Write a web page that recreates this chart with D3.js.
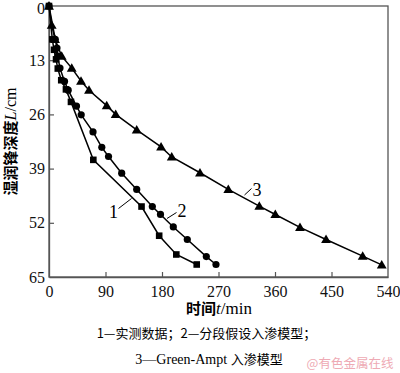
<!DOCTYPE html>
<html><head><meta charset="utf-8">
<script src="https://cdn.jsdelivr.net/npm/d3@7"></script>
<style>body{margin:0;background:#fff}svg{display:block}</style>
</head><body>
<script>
// Data (time in min, wetting front depth in cm)
const xTicks = [0, 90, 180, 270, 360, 450, 540];
const yTicks = [0, 13, 26, 39, 52, 65];
const s1t = [0, 5.3, 8, 11.2, 14, 19.5, 27, 35, 70.6, 147.4, 175.5, 202.8, 235.3];
const s1L = [0, 8.0, 10.5, 12.8, 15.0, 17.8, 20.0, 23.0, 36.9, 48.1, 55.1, 59.6, 62.0];
const s2t = [0, 10, 12.7, 13.9, 17.5, 24.7, 30.6, 43.8, 51.3, 70.1, 84.1, 94.8, 115.8, 139.7, 164.6, 177.6, 198, 220.3, 250.6, 266];
const s2L = [0, 8.0, 10.1, 12.0, 14.9, 18.1, 20.2, 24.0, 26.1, 30.2, 33.9, 36.1, 40.1, 44.0, 48.1, 50.0, 53.0, 56.0, 60.1, 62.0];
const s3t = [0, 4.3, 9.6, 20.2, 36.2, 51, 63.7, 91.9, 106.2, 139.7, 178.5, 195.5, 240.5, 285.6, 335, 360.5, 399.8, 441.3, 499.7, 530];
const s3L = [0, 4.6, 8.0, 12.0, 14.9, 18.0, 20.2, 23.9, 26.0, 29.7, 33.8, 36.2, 40.0, 44.0, 48.0, 50.0, 53.1, 56.0, 60.0, 62.1];
const seriesNames = ["1", "2", "3"];
const captionLine1 = "1—实测数据；2—分段假设入渗模型；";
const captionLine2 = "3—Green-Ampt 入渗模型";
const watermark = "@有色金属在线";

const W = 400, H = 373;
const m = {l: 49, r: 388, t: 6, b: 277};
const svg = d3.select("body").append("svg").attr("width", W).attr("height", H);
const x = d3.scaleLinear().domain([0, 540]).range([m.l, m.r]);
const y = d3.scaleLinear().domain([0, 65]).range([m.t, m.b]);
const serif = "'Liberation Serif','Times New Roman',serif";
const axisColor = "#555";

// frame
svg.append("rect").attr("x", m.l).attr("y", m.t).attr("width", m.r - m.l).attr("height", m.b - m.t)
  .attr("fill", "none").attr("stroke", axisColor).attr("stroke-width", 1.3);

const xAxis = svg.append("g").attr("transform", `translate(0,${m.b})`)
  .call(d3.axisBottom(x).tickValues(xTicks).tickSizeInner(-5).tickSizeOuter(0).tickPadding(9));
const yAxis = svg.append("g").attr("transform", `translate(${m.l},0)`)
  .call(d3.axisLeft(y).tickValues(yTicks).tickSizeInner(-5).tickSizeOuter(0).tickPadding(4));
[xAxis, yAxis].forEach(g => {
  g.select(".domain").attr("stroke", axisColor).attr("stroke-width", 1.3);
  g.selectAll(".tick line").attr("stroke", axisColor).attr("stroke-width", 1.2);
  g.selectAll(".tick text").attr("fill", "#111").style("font-family", serif).style("font-size", "16px");
});
yAxis.selectAll(".tick line").filter(d => d === 0 || d === 65).remove();
xAxis.selectAll(".tick line").filter(d => d === 0 || d === 540).remove();
yAxis.selectAll(".tick text").filter(d => d === 0).attr("dy", "0.45em");

const line = d3.line().x(d => x(d[0])).y(d => y(d[1]));
const mk = (t, L) => t.map((v, i) => [v, L[i]]);
const S = [mk(s1t, s1L), mk(s2t, s2L), mk(s3t, s3L)];
S.forEach(d => svg.append("path").datum(d).attr("d", line).attr("fill", "none").attr("stroke", "#000").attr("stroke-width", 1.5));

// markers
svg.append("g").selectAll("rect").data(S[0]).join("rect")
  .attr("x", d => x(d[0]) - 3.3).attr("y", d => y(d[1]) - 3.3).attr("width", 6.6).attr("height", 6.6).attr("fill", "#000");
svg.append("g").selectAll("circle").data(S[1]).join("circle")
  .attr("cx", d => x(d[0])).attr("cy", d => y(d[1])).attr("r", 3.6).attr("fill", "#000");
const tri = d3.symbol().type(d3.symbolTriangle).size(42);
svg.append("g").selectAll("path").data(S[2]).join("path")
  .attr("transform", d => `translate(${x(d[0])},${y(d[1]) + 0.8})`).attr("d", tri).attr("fill", "#000");

// series labels with leader lines
const labels = [
  {t: seriesNames[0], tx: 113.5, ty: 212, x1: 118.5, y1: 208.5, x2: 131.5, y2: 198.5},
  {t: seriesNames[1], tx: 182, ty: 211, x1: 167, y1: 218.5, x2: 176.5, y2: 212.5},
  {t: seriesNames[2], tx: 257, ty: 190, x1: 244.5, y1: 195, x2: 251.5, y2: 188.5}
];
labels.forEach(l => {
  svg.append("line").attr("x1", l.x1).attr("y1", l.y1).attr("x2", l.x2).attr("y2", l.y2).attr("stroke", "#000").attr("stroke-width", 1);
  svg.append("text").attr("x", l.tx).attr("y", l.ty).attr("text-anchor", "middle").attr("dominant-baseline", "central")
    .style("font-family", serif).style("font-size", "18px").text(l.t);
});

// x title
const xt = svg.append("text").attr("x", 219).attr("y", 314).attr("text-anchor", "middle").attr("fill", "#000");
xt.append("tspan").style("font-family", "'Noto Sans CJK SC'").style("font-weight", "bold").style("font-size", "15px").text("时间");
xt.append("tspan").style("font-family", serif).style("font-style", "italic").style("font-size", "17px").text("t");
xt.append("tspan").style("font-family", serif).style("font-size", "17px").text("/min");

// y title
const yt = svg.append("text").attr("transform", "translate(16,141.5) rotate(-90)").attr("text-anchor", "middle").attr("fill", "#000");
yt.append("tspan").style("font-family", "'Noto Sans CJK SC'").style("font-weight", "bold").style("font-size", "15px").text("湿润锋深度");
yt.append("tspan").style("font-family", serif).style("font-style", "italic").style("font-size", "16px").text("L");
yt.append("tspan").style("font-family", serif).style("font-size", "16px").text("/cm");

// captions
svg.append("text").attr("x", 206.5).attr("y", 338).attr("text-anchor", "middle")
  .style("font-family", "'Noto Sans CJK SC',serif").style("font-size", "13px").text(captionLine1);
const c2 = svg.append("text").attr("x", 209).attr("y", 364).attr("text-anchor", "middle");
c2.append("tspan").style("font-family", serif).style("font-size", "14px").text(captionLine2.split(" ")[0] + " ");
c2.append("tspan").style("font-family", "'Noto Sans CJK SC'").style("font-size", "13px").text(captionLine2.split(" ")[1]);
svg.append("text").attr("x", 350).attr("y", 368).attr("text-anchor", "middle").attr("fill", "#eeaab4")
  .style("font-family", "'Noto Sans CJK SC'").style("font-size", "12.5px").text(watermark);
</script>
</body></html>
